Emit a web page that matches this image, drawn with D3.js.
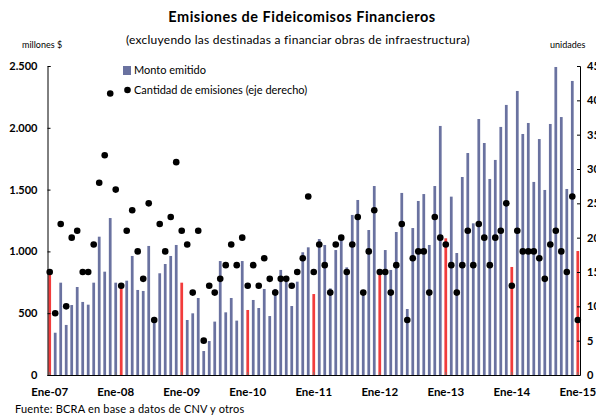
<!DOCTYPE html>
<html>
<head>
<meta charset="utf-8">
<script src="https://cdn.jsdelivr.net/npm/d3@7/dist/d3.min.js"></script>
<style>
  body { margin: 0; background: #fff; }
  text { font-family: Lato, "DejaVu Sans", sans-serif; }
</style>
</head>
<body>
<script>
// meses Ene-07 .. Ene-15
const nombresMes = ["Ene","Feb","Mar","Abr","May","Jun","Jul","Ago","Sep","Oct","Nov","Dic"];
const meses = d3.range(97).map(i => nombresMes[i % 12] + "-" + String(7 + Math.floor(i / 12)).padStart(2, "0"));
const etiquetasX = ["Ene-07","Ene-08","Ene-09","Ene-10","Ene-11","Ene-12","Ene-13","Ene-14","Ene-15"];
// barras en rojo (tal cual el original, 2008 cae en febrero)
const resaltados = ["Ene-07","Feb-08","Ene-09","Ene-10","Ene-11","Ene-12","Ene-13","Ene-14","Ene-15"];

// millones $
const montos = [
  817, 342, 747, 405, 566, 712, 591, 569, 747, 1119, 836, 1270,
  747, 720, 763, 963, 688, 680, 1044, 470, 823, 898, 963, 1052,
  747, 445, 499, 623, 194, 275, 432, 922, 507, 623, 440, 922,
  526, 607, 542, 696, 477, 696, 850, 755, 558, 755, 993, 1033,
  655, 1100, 1052, 701, 1011, 1106, 871, 1295, 1416, 669, 1173, 1529,
  823, 1011, 850, 1157, 1473, 534, 1189, 1408, 1464, 1052, 1529, 2015,
  1106, 1443, 987, 1602, 1796, 1227, 2071, 1877, 1586, 1740, 2007, 2185,
  874, 2298, 1950, 2039, 1562, 1909, 1497, 2031, 2492, 2087, 1505, 2379,
  1003
];
// unidades (eje derecho)
const cantidad = [
  15, 9, 22, 10, 20, 21, 15, 15, 19, 28, 32, 41,
  27, 13, 21, 24, 18, 14, 25, 8, 22, 18, 23, 31,
  21, 19, 12, 21, 5, 13, 12, 14, 16, 19, 16, 20,
  13, 16, 13, 17, 14, 12, 14, 14, 13, 15, 17, 26,
  15, 19, 16, 12, 19, 20, 15, 19, 23, 12, 18, 24,
  15, 15, 12, 16, 22, 8, 17, 18, 18, 12, 23, 20,
  19, 16, 12, 16, 21, 16, 22, 20, 16, 20, 21, 25,
  13, 21, 18, 18, 18, 17, 14, 19, 21, 18, 15, 26,
  8
];
const ticksIzq = [0, 500, 1000, 1500, 2000, 2500];
const ticksDer = [0, 5, 10, 15, 20, 25, 30, 35, 40, 45];

const width = 596, height = 416;
const azul = "#6a72a0", rojo = "#f23c3c";
const izq = 47.5, der = 580, arriba = 66, abajo = 375;

const svg = d3.select("body").append("svg")
  .attr("width", width)
  .attr("height", height);

const x = d3.scaleBand().domain(meses).range([izq, der]).paddingInner(0.5).paddingOuter(0.15);
const yL = d3.scaleLinear().domain([0, 2500]).range([abajo, arriba]);
const yR = d3.scaleLinear().domain([0, 45]).range([abajo, arriba]);

const loc = d3.formatLocale({decimal: ",", thousands: ".", grouping: [3], currency: ["$", ""]});
const fmt = loc.format(",");

// ejes
const ejeX = svg.append("g")
  .attr("transform", `translate(0,${abajo})`)
  .call(d3.axisBottom(x).tickValues(resaltados).tickSize(-3).tickPadding(13)
    .tickFormat((d, i) => etiquetasX[i]));
ejeX.select(".domain").attr("stroke", "#000").attr("d", `M${izq},0.5H${der}`);
ejeX.selectAll(".tick line").attr("stroke", "#777");
ejeX.selectAll(".tick").attr("transform", (d, i) => `translate(${x(meses[i * 12]) + x.bandwidth() / 2},0)`);
ejeX.selectAll("text").attr("font-size", 11.5).attr("font-weight", 700).attr("fill", "#000");

const ejeIzq = svg.append("g")
  .attr("transform", `translate(${izq},0)`)
  .call(d3.axisLeft(yL).tickValues(ticksIzq).tickSize(-3).tickPadding(10).tickFormat(fmt));
ejeIzq.selectAll("text").attr("font-size", 11).attr("font-weight", 700).attr("fill", "#000");

const ejeDer = svg.append("g")
  .attr("transform", `translate(${der},0)`)
  .call(d3.axisRight(yR).tickValues(ticksDer).tickSize(-3).tickPadding(7));
ejeDer.selectAll("text").attr("font-size", 11).attr("font-weight", 700).attr("fill", "#000");

// barras
svg.append("g")
  .selectAll("rect")
  .data(montos)
  .enter()
  .append("rect")
  .attr("x", (d, i) => x(meses[i]))
  .attr("y", d => yL(d))
  .attr("width", x.bandwidth())
  .attr("height", d => abajo - yL(d))
  .attr("fill", (d, i) => resaltados.includes(meses[i]) ? rojo : azul);

ejeX.raise();
ejeIzq.raise();
ejeDer.raise();

// puntos
svg.append("g")
  .selectAll("circle")
  .data(cantidad)
  .enter()
  .append("circle")
  .attr("cx", (d, i) => x(meses[i]) + x.bandwidth() / 2)
  .attr("cy", d => yR(d))
  .attr("r", 3.3)
  .attr("fill", "#000");

// titulos
svg.append("text").attr("x", 302).attr("y", 22).attr("text-anchor", "middle")
  .attr("font-size", 14.5).attr("font-weight", 700).attr("letter-spacing", 0.5)
  .text("Emisiones de Fideicomisos Financieros");
svg.append("text").attr("x", 298).attr("y", 44).attr("text-anchor", "middle")
  .attr("font-size", 12).attr("letter-spacing", 0.25)
  .text("(excluyendo las destinadas a financiar obras de infraestructura)");
svg.append("text").attr("x", 22).attr("y", 48).attr("font-size", 9).text("millones $");
svg.append("text").attr("x", 550).attr("y", 48).attr("font-size", 9).text("unidades");

// leyenda
svg.append("rect").attr("x", 123).attr("y", 66).attr("width", 8).attr("height", 9).attr("fill", azul);
svg.append("text").attr("x", 134).attr("y", 74).attr("font-size", 11).text("Monto emitido");
svg.append("circle").attr("cx", 127.5).attr("cy", 90).attr("r", 3.3).attr("fill", "#000");
svg.append("text").attr("x", 134).attr("y", 94).attr("font-size", 11).text("Cantidad de emisiones (eje derecho)");

// fuente
svg.append("text").attr("x", 15).attr("y", 413).attr("font-size", 11).attr("letter-spacing", 0.2)
  .text("Fuente: BCRA en base a datos de CNV y otros");
</script>
</body>
</html>
